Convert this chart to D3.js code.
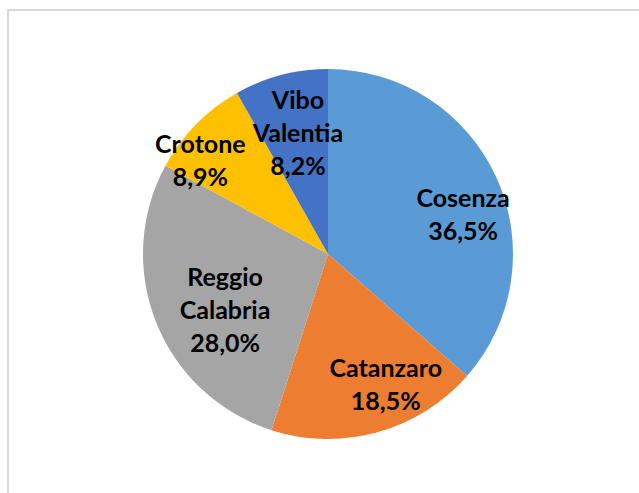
<!DOCTYPE html>
<html>
<head>
<meta charset="utf-8">
<script src="https://cdn.jsdelivr.net/npm/d3@7"></script>
<style>
  html, body { margin: 0; padding: 0; background: #fff; }
  svg { display: block; }
</style>
</head>
<body>
<svg id="chart" width="639" height="493"></svg>
<script>
// Data
const categories = ["Cosenza", "Catanzaro", "Reggio Calabria", "Crotone", "Vibo Valentia"];
const labelLines = [["Cosenza"], ["Catanzaro"], ["Reggio", "Calabria"], ["Crotone"], ["Vibo", "Valentia"]];
const values = [36.5, 18.5, 28.0, 8.9, 8.2];
const colors = ["#5B9BD5", "#ED7D31", "#A5A5A5", "#FFC000", "#4472C4"];

// Layout (label placement, polar around pie centre: radius in px, angle in degrees clockwise from 12 o'clock)
const labelRadius = [141, 142, 116.5, 159, 126];
const labelAngle = [73.3, 156.0, 242.1, 306.6, 346.2];

const W = 639, H = 493;
const cx = 328, cy = 254, R = 185;
const lineH = 33;

const svg = d3.select("#chart");

svg.append("rect")
  .attr("x", 8).attr("y", 10)
  .attr("width", 700).attr("height", 600)
  .attr("fill", "#fff")
  .attr("stroke", "#d9d9d9")
  .attr("stroke-width", 2);

const locale = d3.formatLocale({decimal: ",", thousands: ".", grouping: [3], currency: ["€", ""]});
const fmt = locale.format(".1f");

const data = categories.map((c, i) => ({name: c, value: values[i], i}));

const pie = d3.pie().sort(null).value(d => d.value);
const arc = d3.arc().innerRadius(0).outerRadius(R);
const arcs = pie(data);

const g = svg.append("g").attr("transform", `translate(${cx},${cy})`);

g.selectAll("path.slice")
  .data(arcs)
  .join("path")
  .attr("class", "slice")
  .attr("d", arc)
  .attr("fill", d => colors[d.data.i]);

const labels = g.selectAll("text.lbl")
  .data(arcs)
  .join("text")
  .attr("class", "lbl")
  .attr("text-anchor", "middle")
  .attr("font-family", "Lato, 'Open Sans', sans-serif")
  .attr("font-weight", "bold")
  .attr("font-size", 25)
  .attr("fill", "#000")
  .each(function(d) {
    const i = d.data.i;
    const a = labelAngle[i] * Math.PI / 180;
    const x = labelRadius[i] * Math.sin(a);
    const y = -labelRadius[i] * Math.cos(a);
    const lines = labelLines[i].concat([fmt(d.data.value) + "%"]);
    const n = lines.length;
    const t = d3.select(this);
    lines.forEach((ln, k) => {
      t.append("tspan")
        .attr("x", x)
        .attr("y", y + (k - (n - 1) / 2) * lineH)
        .attr("dominant-baseline", "central")
        .text(ln);
    });
  });
</script>
</body>
</html>
